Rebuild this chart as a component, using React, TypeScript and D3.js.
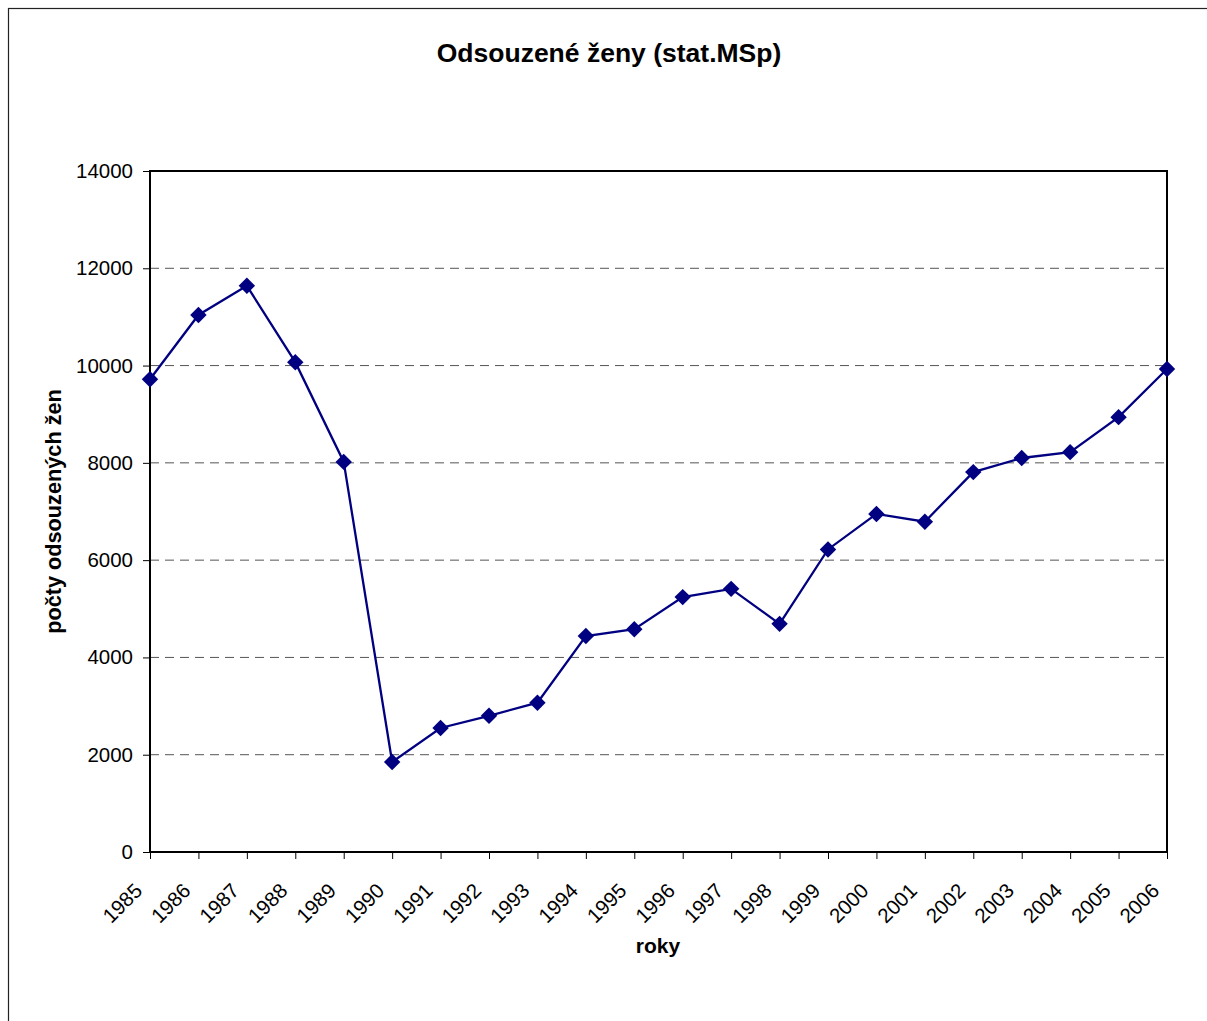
import React, { useEffect, useRef } from 'react';
import * as d3 from 'd3';

const years: string[] = [
  '1985', '1986', '1987', '1988', '1989', '1990', '1991', '1992', '1993', '1994', '1995',
  '1996', '1997', '1998', '1999', '2000', '2001', '2002', '2003', '2004', '2005', '2006',
];
const counts: number[] = [
  9720, 11040, 11640, 10070, 8020, 1850, 2550, 2800, 3070, 4440, 4580,
  5240, 5410, 4690, 6220, 6950, 6790, 7810, 8100, 8220, 8940, 9930,
];
const yTicks: number[] = [0, 2000, 4000, 6000, 8000, 10000, 12000, 14000];

const App: React.FC = () => {
  const svgRef = useRef<SVGSVGElement>(null);

  useEffect(() => {
    if (!svgRef.current) return;
    const svg = d3.select(svgRef.current);
    svg.selectAll('*').remove();

    const width = 1207;
    const height = 1021;
    const left = 150, right = 1167, top = 171, bottom = 852;
    const font = 'Arial, "Liberation Sans", sans-serif';

    svg.attr('width', width).attr('height', height);

    // outer frame
    svg.append('rect')
      .attr('x', 8.5).attr('y', 8.5)
      .attr('width', 1220).attr('height', 1030)
      .attr('fill', 'white').attr('stroke', '#222').attr('stroke-width', 1.2);

    const x = d3.scalePoint<string>().domain(years).range([left, right]);
    const y = d3.scaleLinear().domain([0, 14000]).range([bottom, top]);

    // grid
    svg.append('g')
      .selectAll('line')
      .data(yTicks.filter((t) => t > 0 && t < 14000))
      .join('line')
      .attr('x1', left).attr('x2', right)
      .attr('y1', (d) => y(d)).attr('y2', (d) => y(d))
      .attr('stroke', '#555').attr('stroke-width', 1)
      .attr('stroke-dasharray', '9,6');

    // plot frame
    svg.append('rect')
      .attr('x', left).attr('y', top)
      .attr('width', right - left).attr('height', bottom - top)
      .attr('fill', 'none').attr('stroke', '#000').attr('stroke-width', 2);

    // y axis
    const yAxis = svg.append('g')
      .attr('transform', `translate(${left},0)`)
      .call(d3.axisLeft(y).tickValues(yTicks).tickSize(7).tickPadding(10).tickFormat((d) => String(d)));
    yAxis.select('.domain').remove();
    yAxis.selectAll('line').attr('stroke', '#000');
    yAxis.selectAll('text')
      .attr('font-family', font).attr('font-size', 20.5).attr('fill', '#000');

    // x axis
    const xAxis = svg.append('g')
      .attr('transform', `translate(0,${bottom})`)
      .call(d3.axisBottom(x).tickSize(7));
    xAxis.select('.domain').remove();
    xAxis.selectAll('line').attr('stroke', '#000');
    xAxis.selectAll('text')
      .attr('font-family', font).attr('font-size', 20.5).attr('fill', '#000')
      .attr('text-anchor', 'end')
      .attr('x', 0).attr('y', 0).attr('dy', 0)
      .attr('transform', 'translate(-7,40) rotate(-45)');

    // line
    const line = d3.line<number>()
      .x((_, i) => x(years[i]) as number)
      .y((d) => y(d));
    svg.append('path')
      .datum(counts)
      .attr('d', line)
      .attr('fill', 'none')
      .attr('stroke', '#000080')
      .attr('stroke-width', 2.3);

    // diamond markers
    const diamond = d3.symbol().type(d3.symbolSquare).size(135)();
    svg.append('g')
      .selectAll('path')
      .data(counts)
      .join('path')
      .attr('d', diamond)
      .attr('transform', (d, i) => `translate(${x(years[i])},${y(d)}) rotate(45)`)
      .attr('fill', '#000080');

    // titles
    svg.append('text')
      .attr('x', 609).attr('y', 62)
      .attr('text-anchor', 'middle')
      .attr('font-family', font).attr('font-size', 26.5).attr('font-weight', 'bold')
      .text('Odsouzené ženy (stat.MSp)');

    svg.append('text')
      .attr('x', 658).attr('y', 953)
      .attr('text-anchor', 'middle')
      .attr('font-family', font).attr('font-size', 21).attr('font-weight', 'bold')
      .text('roky');

    svg.append('text')
      .attr('transform', `translate(61,${(top + bottom) / 2}) rotate(-90)`)
      .attr('text-anchor', 'middle')
      .attr('font-family', font).attr('font-size', 21.7).attr('font-weight', 'bold')
      .text('počty odsouzených žen');
  }, []);

  return (
    <div style={{ position: 'absolute', left: 0, top: 0 }}>
      <svg ref={svgRef} style={{ display: 'block' }}></svg>
    </div>
  );
};

export default App;
